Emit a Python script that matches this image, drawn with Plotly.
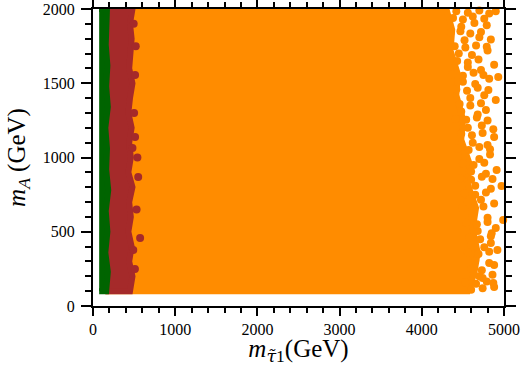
import plotly.graph_objects as go

# solid cores of the three point clouds (outline)
orange_core_x = [150, 4560, 4640, 4680, 4620, 4660, 4560, 4580, 4480, 4500,
                 4420, 4440, 4350, 4370, 4300, 150]
orange_core_y = [100, 100, 220, 360, 520, 660, 820, 960, 1120, 1260,
                 1420, 1560, 1720, 1860, 2000, 2000]
# loose points along the ragged right edge of the orange cloud
orange_x = [4420, 4560, 4700, 4820, 4900, 4480, 4640, 4790, 4520, 4700, 4840,
            4450, 4610, 4800, 4560, 4720, 4880, 4500, 4650, 4820, 4930, 4590,
            4760, 4900, 4480, 4680, 4780, 4560, 4730, 4870, 4620, 4800, 4880,
            4530, 4700, 4830, 4600, 4780, 4910, 4650, 4840, 4970, 4560, 4720,
            4880, 4620, 4800, 4990, 4680, 4850, 4900, 4600, 4760, 4840, 4650,
            4820, 4920, 4700, 4860, 4880, 4600, 4740, 4880, 4740, 4870,
            4380, 4500, 4620, 4760, 4350, 4470, 4590, 4720, 4400, 4530, 4660,
            4790, 4430, 4560, 4690, 4370, 4500, 4630, 4750, 4420, 4550, 4680,
            4810, 4460, 4590, 4720, 4410, 4540, 4670, 4800, 4480, 4610, 4740,
            4440, 4570, 4700, 4830, 4500, 4630, 4760, 4470, 4600, 4730, 4860,
            4520, 4650, 4780, 4490, 4620, 4750, 4540, 4670, 4800, 4580, 4710,
            4840, 4560, 4690, 4820, 4600, 4730, 4530, 4660, 4790]
orange_y = [1985, 1975, 1990, 1970, 1985, 1880, 1905, 1890, 1790, 1810, 1795,
            1700, 1690, 1720, 1610, 1590, 1625, 1510, 1495, 1530, 1542, 1400,
            1420, 1387, 1310, 1290, 1320, 1200, 1215, 1190, 1100, 1085, 1138,
            1010, 990, 1020, 905, 890, 915, 810, 790, 808, 700, 715, 690,
            610, 595, 579, 505, 490, 525, 410, 395, 424, 305, 290, 377, 200,
            210, 276, 110, 120, 128, 189, 155,
            1940, 1930, 1950, 1935, 1840, 1850, 1835, 1845, 1750, 1740, 1755,
            1745, 1650, 1640, 1660, 1560, 1550, 1570, 1555, 1460, 1450, 1470,
            1455, 1360, 1350, 1365, 1260, 1255, 1270, 1250, 1160, 1150, 1165,
            1060, 1050, 1070, 1055, 960, 950, 965, 860, 850, 870, 855,
            760, 750, 765, 660, 650, 670, 560, 550, 565, 460, 450,
            470, 360, 350, 365, 250, 240, 160, 150, 165]

brown_core_x = [150, 450, 480, 440, 470, 430, 460, 440, 480, 430, 460, 440,
                470, 430, 450, 480, 440, 460, 470, 450, 480, 150]
brown_core_y = [100, 100, 200, 300, 400, 500, 600, 700, 800, 900, 1000, 1100,
                1200, 1300, 1400, 1500, 1600, 1700, 1800, 1900, 2000, 2000]
brown_x = [512, 512, 480, 550, 573, 490, 520, 500, 530, 510, 495, 540]
brown_y = [1556, 1138, 1064, 869, 458, 377, 1750, 1300, 650, 250, 1900, 1000]

green_core_x = [75, 160, 180, 150, 175, 155, 185, 160, 170, 150, 180, 160,
                175, 155, 170, 75]
green_core_y = [100, 100, 230, 360, 500, 640, 780, 920, 1060, 1200, 1340,
                1480, 1620, 1760, 2000, 2000]

fig = go.Figure()
for cx, cy, px, py, col in [
    (orange_core_x, orange_core_y, orange_x, orange_y, '#ff8c00'),
    (brown_core_x, brown_core_y, brown_x, brown_y, '#a52a2a'),
    (green_core_x, green_core_y, [], [], '#006400'),
]:
    fig.add_trace(go.Scatter(
        x=cx, y=cy, mode='lines', fill='toself', fillcolor=col,
        line=dict(color=col, width=6), hoverinfo='skip', showlegend=False,
    ))
    if px:
        fig.add_trace(go.Scatter(
            x=px, y=py, mode='markers', cliponaxis=False,
            marker=dict(color=col, size=8, line=dict(width=0)),
            showlegend=False,
        ))
# empty trace so the mirrored top/right axes get drawn
fig.add_trace(go.Scatter(x=[None], y=[None], xaxis='x2', yaxis='y2',
                         showlegend=False, hoverinfo='skip'))

axis = dict(
    showgrid=False, zeroline=False, showline=True, linecolor='black',
    linewidth=2, ticks='outside', automargin=False,
    tickwidth=1.5, tickcolor='black',
    tickfont=dict(family='Liberation Serif', size=16, color='black'),
)
xminor = dict(dtick=200, ticklen=5, tickwidth=1.5, tickcolor='black',
              ticks='outside')
yminor = dict(dtick=100, ticklen=6, tickwidth=1.5, tickcolor='black',
              ticks='outside')
title_font = dict(family='Liberation Serif', size=25, color='black')
x_title = ('<i>m</i><sub><span style="font-family:DejaVu Serif">'
           '<i>τ̃</i></span>1</sub>(GeV)')
fig.update_layout(
    width=525, height=366,
    margin=dict(l=93, r=21, t=9, b=60),
    plot_bgcolor='white', paper_bgcolor='white',
    xaxis=dict(axis, range=[0, 5000], dtick=1000, minor=xminor, ticklen=8,
               title=dict(text=x_title, font=title_font, standoff=11)),
    yaxis=dict(axis, range=[0, 2000], dtick=500, minor=yminor, ticklen=10,
               ticklabelstandoff=3,
               title=dict(text='<i>m</i><sub><i>A</i></sub> (GeV)',
                          font=title_font, standoff=10)),
    xaxis2=dict(axis, range=[0, 5000], dtick=1000, minor=xminor, ticklen=8,
                overlaying='x', side='top', anchor='y',
                showticklabels=False),
    yaxis2=dict(axis, range=[0, 2000], dtick=500, minor=yminor, ticklen=10,
                overlaying='y', side='right', anchor='x',
                showticklabels=False),
)

# drop the browser's default page margin so the figure sits at (0, 0)
fig.write_html("out.html", config={'displayModeBar': False},
               post_script="document.body.style.margin='0';")
